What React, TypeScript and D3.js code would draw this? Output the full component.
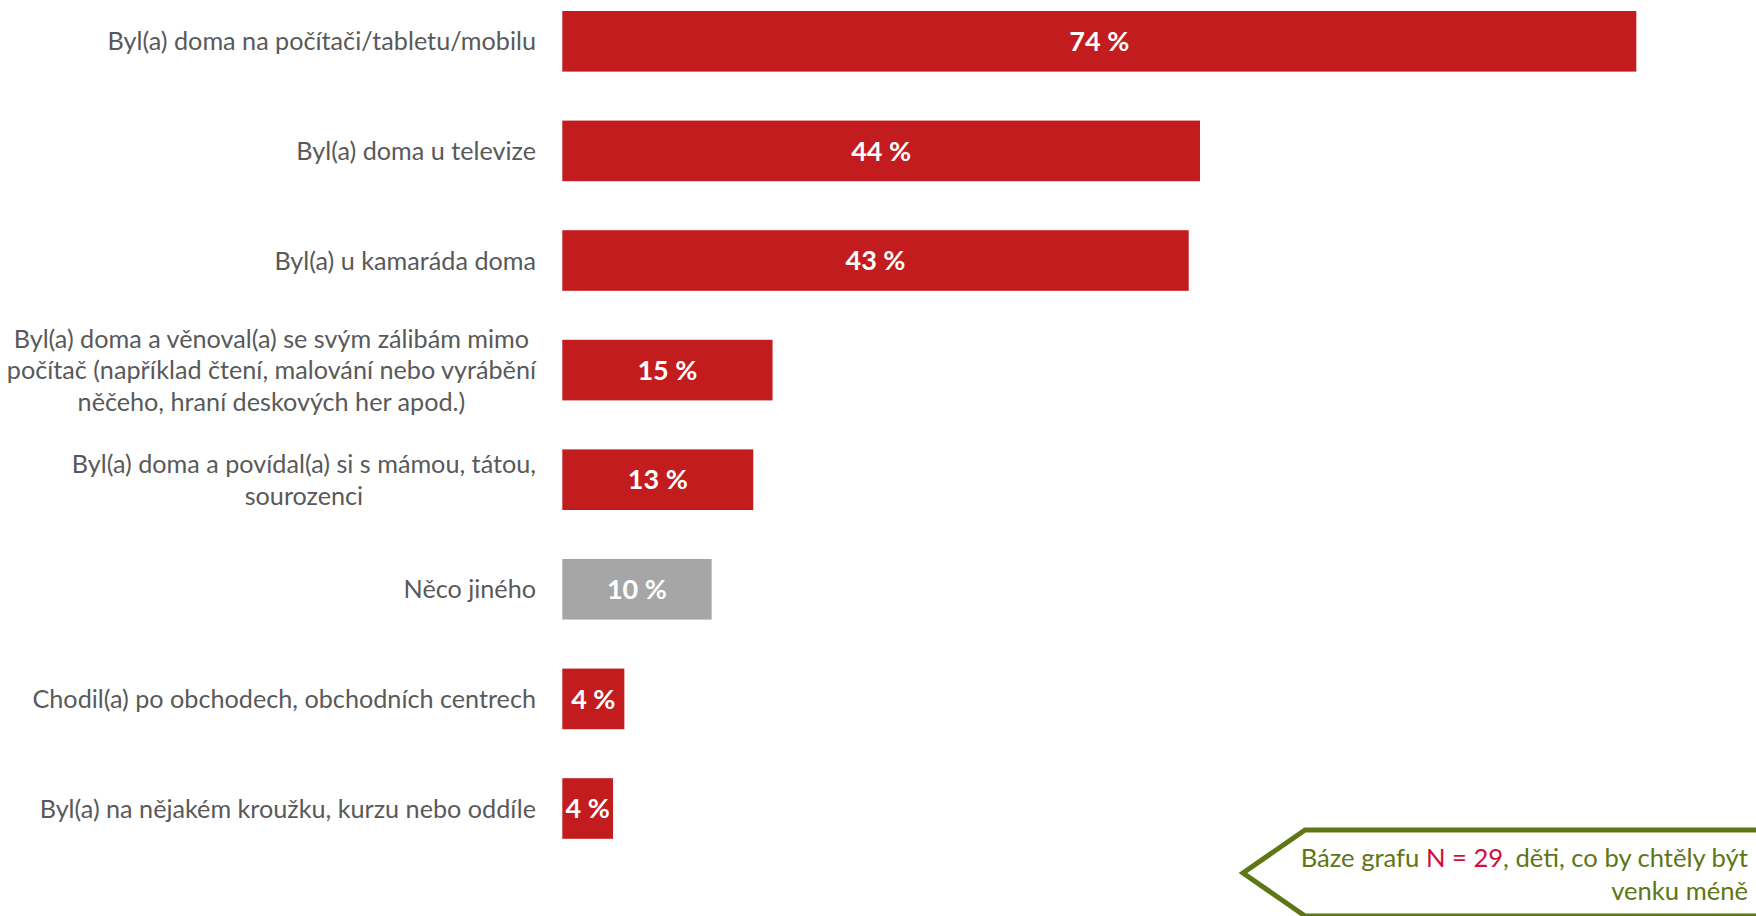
import React, { useEffect, useRef } from "react";
import * as d3 from "d3";

const categories: string[][] = [
  ["Byl(a) doma na počítači/tabletu/mobilu"],
  ["Byl(a) doma u televize"],
  ["Byl(a) u kamaráda doma"],
  [
    "Byl(a) doma a věnoval(a) se svým zálibám mimo",
    "počítač (například čtení, malování nebo vyrábění",
    "něčeho, hraní deskových her apod.)",
  ],
  ["Byl(a) doma a povídal(a) si s mámou, tátou,", "sourozenci"],
  ["Něco jiného"],
  ["Chodil(a) po obchodech, obchodních centrech"],
  ["Byl(a) na nějakém kroužku, kurzu nebo oddíle"],
];
const values: number[] = [74.07, 43.98, 43.2, 14.5, 13.17, 10.3, 4.28, 3.5];
const isOther: boolean[] = [false, false, false, false, false, true, false, false];

const W = 1756;
const H = 916;
const FONT = "Lato, 'Open Sans', sans-serif";
const RED = "#C21C1E";
const GREY = "#A6A6A6";
const LABEL = "#595959";
const OLIVE = "#5E7613";

export default function App() {
  const ref = useRef<SVGSVGElement | null>(null);

  useEffect(() => {
    const svg = d3.select(ref.current);
    svg.selectAll("*").remove();

    const x = d3.scaleLinear().domain([0, 100]).range([562.3, 562.3 + 1450]);
    const ids = categories.map((_, i) => String(i));
    const y = d3
      .scaleBand<string>()
      .domain(ids)
      .range([11, 838.8])
      .paddingInner(0.447)
      .paddingOuter(0);

    const g = svg.append("g");

    g.selectAll("rect.bar")
      .data(values)
      .join("rect")
      .attr("class", "bar")
      .attr("x", x(0))
      .attr("y", (_, i) => y(ids[i])!)
      .attr("width", (d) => x(d) - x(0))
      .attr("height", y.bandwidth())
      .attr("fill", (_, i) => (isOther[i] ? GREY : RED));

    g.selectAll("text.val")
      .data(values)
      .join("text")
      .attr("class", "val")
      .attr("x", (d) => (x(0) + x(d)) / 2)
      .attr("y", (_, i) => y(ids[i])! + y.bandwidth() / 2)
      .attr("dy", "0.36em")
      .attr("text-anchor", "middle")
      .attr("fill", "#fff")
      .attr("font-family", FONT)
      .attr("font-weight", 700)
      .attr("font-size", 27)
      .text((d) => `${Math.round(d)} %`);

    const labelRight = 536;
    const lineH = 31.5;
    categories.forEach((lines, i) => {
      const cy = y(ids[i])! + y.bandwidth() / 2;
      const t = g
        .append("text")
        .attr("font-family", FONT)
        .attr("font-size", 25.2)
        .attr("fill", LABEL)
        .attr("text-anchor", "middle");
      const spans = lines.map((ln, k) =>
        t
          .append("tspan")
          .attr("y", cy + (k - (lines.length - 1) / 2) * lineH)
          .attr("dy", "0.36em")
          .text(ln)
      );
      const maxW = d3.max(spans, (s) => (s.node() as SVGTSpanElement).getComputedTextLength()) || 0;
      spans.forEach((s) => s.attr("x", labelRight - maxW / 2));
    });

    // Callout box
    const cg = svg.append("g");
    const tipX = 1243,
      tipY = 873,
      cornerX = 1305,
      topY = 830;
    cg.append("path")
      .attr(
        "d",
        `M${W + 10},${topY} L${cornerX},${topY} L${tipX},${tipY} L${cornerX},${tipY + (tipY - topY)} L${W + 10},${tipY + (tipY - topY)}`
      )
      .attr("fill", "#fff")
      .attr("stroke", OLIVE)
      .attr("stroke-width", 5)
      .attr("stroke-linejoin", "miter");

    const ct = cg
      .append("text")
      .attr("font-family", FONT)
      .attr("font-size", 25.6)
      .attr("fill", OLIVE)
      .attr("text-anchor", "end");
    const l1 = ct.append("tspan").attr("x", 1748).attr("y", 858).attr("dy", "0.36em");
    l1.append("tspan").text("Báze grafu ");
    l1.append("tspan").attr("fill", "#D01038").text("N = 29");
    l1.append("tspan").text(", děti, co by chtěly být");
    ct.append("tspan").attr("x", 1748).attr("y", 891).attr("dy", "0.36em").text("venku méně");
  }, []);

  return (
    <svg
      ref={ref}
      width={W}
      height={H}
      style={{ position: "absolute", left: 0, top: 0, background: "#fff" }}
    />
  );
}
